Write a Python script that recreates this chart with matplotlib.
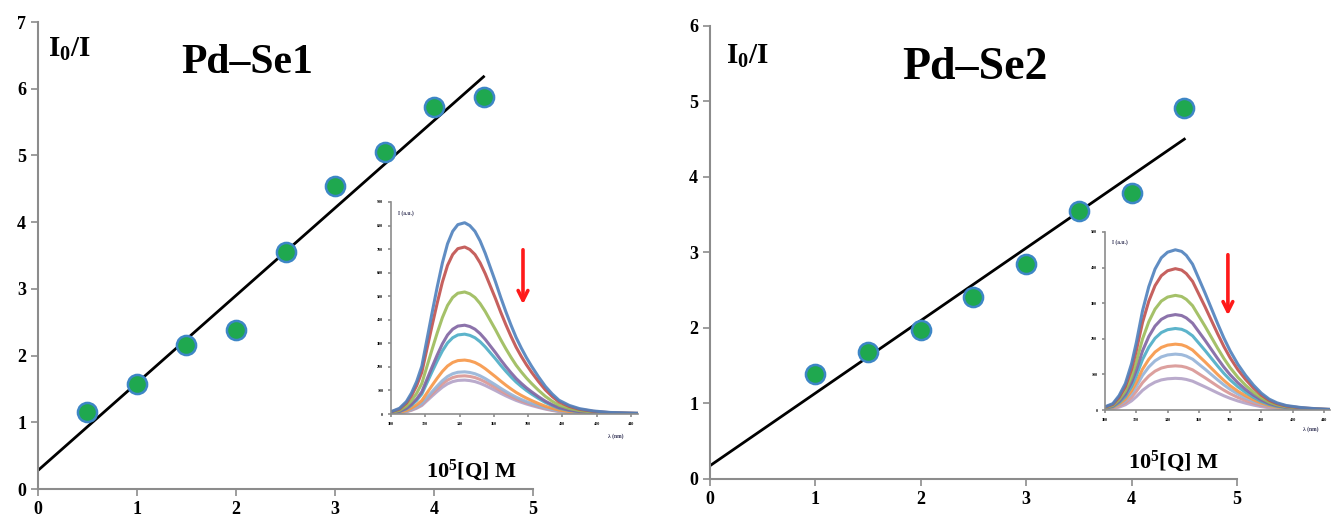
import numpy as np
import matplotlib
matplotlib.use("Agg")
from matplotlib import pyplot as plt

plt.rcParams['font.family'] = ['Liberation Serif', 'DejaVu Serif']
plt.rcParams['font.weight'] = 'bold'
plt.rcParams['mathtext.fontset'] = 'custom'
plt.rcParams['mathtext.rm'] = 'Liberation Serif:bold'
plt.rcParams['mathtext.it'] = 'Liberation Serif:bold'
plt.rcParams['mathtext.bf'] = 'Liberation Serif:bold'

# Stern-Volmer data, 10^5 [Q] M vs I0/I
q_se1 = [0.5, 1.0, 1.5, 2.0, 2.5, 3.0, 3.5, 4.0, 4.5]
f_se1 = [1.15, 1.57, 2.16, 2.38, 3.55, 4.54, 5.05, 5.73, 5.88]
q_se2 = [1.0, 1.5, 2.0, 2.5, 3.0, 3.5, 4.0, 4.5]
f_se2 = [1.39, 1.68, 1.97, 2.41, 2.85, 3.55, 3.79, 4.91]

# inset emission spectra: normalised shape of the top curve + peak heights
wl_se1 = [300, 305, 309, 312, 315, 318, 321, 324, 327, 330, 333, 336, 339,
          343, 346, 349, 352, 355, 358, 361, 364, 367, 370, 373, 376, 379,
          382, 386, 390, 394, 398, 404, 410, 418, 428, 444]
shape_se1 = [0.012, 0.03, 0.065, 0.11, 0.17, 0.25, 0.39, 0.53, 0.665, 0.79,
             0.89, 0.955, 0.99, 1.0, 0.985, 0.955, 0.905, 0.84, 0.765, 0.69,
             0.61, 0.535, 0.465, 0.40, 0.345, 0.295, 0.25, 0.195, 0.145,
             0.105, 0.072, 0.045, 0.028, 0.016, 0.008, 0.004]
peaks_se1 = [812, 709, 518, 377, 339, 229, 179, 162, 144]

wl_se2 = [300, 305, 309, 313, 317, 320, 324, 328, 332, 336, 340, 345, 349,
          352, 356, 360, 364, 368, 372, 376, 380, 385, 390, 395, 400, 405,
          410, 416, 425, 435, 444]
shape_se2 = [0.02, 0.04, 0.09, 0.165, 0.29, 0.42, 0.62, 0.77, 0.88, 0.95,
             0.985, 1.0, 0.99, 0.965, 0.91, 0.82, 0.73, 0.635, 0.54, 0.45,
             0.37, 0.285, 0.215, 0.155, 0.105, 0.068, 0.045, 0.028, 0.016,
             0.008, 0.004]
peaks_se2 = [450, 397, 322, 268, 229, 185, 157, 124, 89]

curve_colors = ['#4F81BD', '#C0504D', '#9BBB59', '#8064A2', '#4BACC6',
                '#F79646', '#95B3D7', '#D99694', '#B3A2C7']


def style_axes(ax, tick_size, tick_len=5):
    for side in ['top', 'right']:
        ax.spines[side].set_visible(False)
    for side in ['left', 'bottom']:
        ax.spines[side].set_color('#8c8c8c')
        ax.spines[side].set_linewidth(1.5)
    ax.tick_params(colors='#8c8c8c', labelcolor='black', labelsize=tick_size,
                   length=tick_len, width=1.2)


def main_panel(rect, q, f, ymax, title, title_xy, title_size, lab_xy, q_xy):
    ax = fig.add_axes(rect)
    style_axes(ax, 13)
    ax.set_xlim(0, 5)
    ax.set_ylim(0, ymax)
    ax.set_xticks(range(0, 6))
    ax.set_yticks(range(0, ymax + 1))
    slope, icpt = np.polyfit(q, f, 1)
    xs = np.array([0, max(q)])
    ax.plot(xs, slope * xs + icpt, color='black', lw=2, zorder=2)
    ax.scatter(q, f, s=190, color='#1fa84f', edgecolor='#3d86c6', linewidth=1.8, zorder=3)
    fig.text(title_xy[0], title_xy[1], title, fontsize=title_size,
             fontweight='bold', ha='center', va='center')
    fig.text(lab_xy[0], lab_xy[1], r'$I_0$/I', fontsize=21, ha='left', va='center')
    fig.text(q_xy[0], q_xy[1], r'10$^5$[Q] M', fontsize=16, ha='left', va='center')
    return ax


def inset(rect, wl, shape, peaks, ymax, ystep, arrow):
    ax = fig.add_axes(rect)
    style_axes(ax, 3, tick_len=2)
    for s in ['left', 'bottom']:
        ax.spines[s].set_linewidth(1.2)
    ax.set_xlim(300, 444)
    ax.set_ylim(0, ymax)
    ax.set_xticks(range(300, 441, 20))
    ax.set_yticks(range(0, ymax + 1, ystep))
    sh = np.array(shape)
    for i in range(len(peaks) - 1, -1, -1):
        ax.plot(wl, sh * peaks[i], color=curve_colors[i], lw=2.2, alpha=0.9,
                solid_joinstyle='round')
    ax.text(0.03, 0.96, 'I (a.u.)', transform=ax.transAxes, fontsize=4,
            ha='left', va='top', color='#333355')
    ax.text(0.88, -0.09, 'λ (nm)', transform=ax.transAxes, fontsize=4,
            ha='left', va='top', color='#333355')
    ax.annotate('', xy=(arrow[0], arrow[2]), xytext=(arrow[0], arrow[1]),
                arrowprops=dict(arrowstyle='->,head_length=0.7,head_width=0.35',
                                color='#ff1a1a', lw=2.6))
    return ax


fig = plt.figure(figsize=(13.32, 5.19), dpi=100)

main_panel([0.0285, 0.0578, 0.3717, 0.8998], q_se1, f_se1, 7,
           'Pd–Se1', (0.1855, 0.879), 30, (0.036, 0.905), (0.320, 0.094))
main_panel([0.533, 0.0771, 0.3957, 0.8729], q_se2, f_se2, 6,
           'Pd–Se2', (0.732, 0.869), 33, (0.545, 0.892), (0.847, 0.112))

inset([0.2935, 0.2023, 0.1854, 0.4085], wl_se1, shape_se1, peaks_se1, 900, 100,
      (377, 709, 454))
inset([0.8296, 0.210, 0.169, 0.343], wl_se2, shape_se2, peaks_se2, 500, 100,
      (378.6, 444, 258))

fig.savefig('out.png', dpi=100)
